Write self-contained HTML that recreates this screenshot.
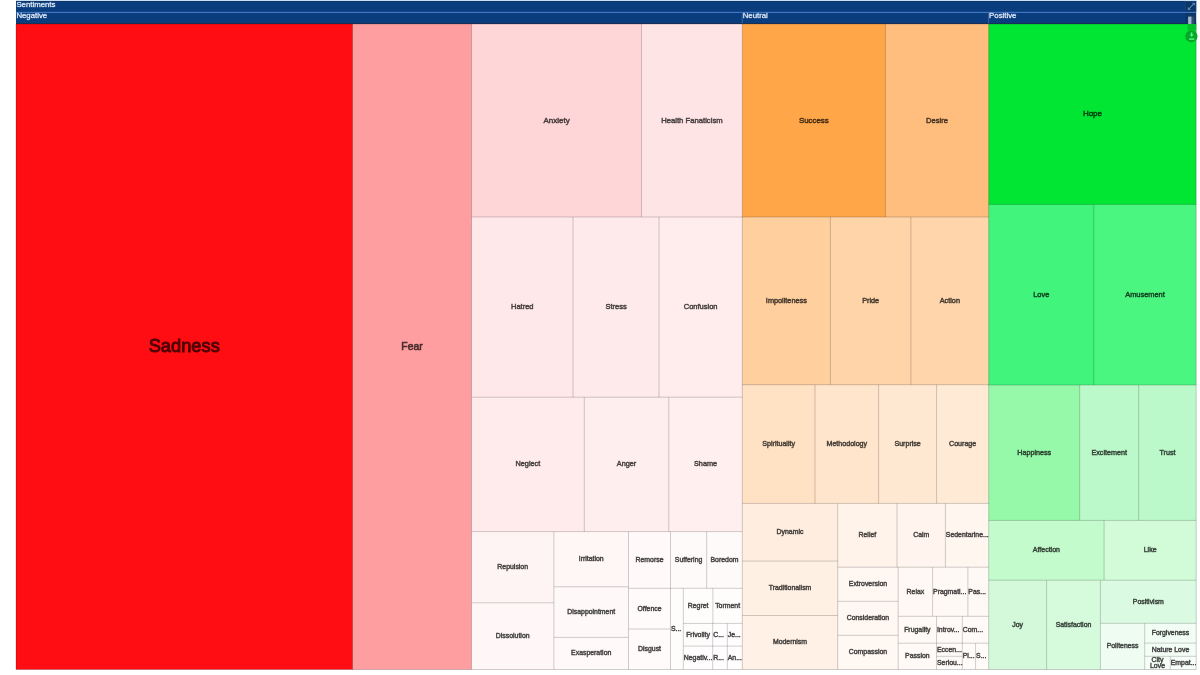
<!DOCTYPE html>
<html><head><meta charset="utf-8"><title>Sentiments</title>
<style>
html,body{margin:0;padding:0;background:#fff;width:1200px;height:675px;overflow:hidden}
svg{display:block;will-change:transform}
text{font-family:"Liberation Sans",sans-serif}
.t{stroke:rgba(0,0,0,0.5);stroke-width:0.4px}
.h{stroke:rgba(230,240,253,0.6);stroke-width:0.4px}
</style></head><body>
<svg width="1200" height="675" viewBox="0 0 1200 675">

<rect x="16.0" y="0" width="1180.2" height="1.2" fill="#c4e0f6"/>
<rect x="16.0" y="1" width="1180.2" height="23" fill="#0a3d7e"/>
<rect x="16.0" y="1" width="1180.2" height="0.8" fill="#17345e"/>
<rect x="16.0" y="11.85" width="1180.2" height="1.1" fill="#4579c6"/>
<rect x="16.0" y="23" width="1180.2" height="1" fill="#1b355f"/>
<rect x="741.8" y="12.5" width="0.9" height="11" fill="#3a68a8"/>
<rect x="988.2" y="12.5" width="0.9" height="11" fill="#3a68a8"/>
<text transform="translate(16.40 6.85) scale(1.1 1)" font-size="7.1" class="h" fill="#eaf2fd">Sentiments</text>
<text transform="translate(16.40 18.40) scale(1.1 1)" font-size="7.1" class="h" fill="#eaf2fd">Negative</text>
<text transform="translate(742.70 18.40) scale(1.1 1)" font-size="7.1" class="h" fill="#eaf2fd">Neutral</text>
<text transform="translate(989.10 18.40) scale(1.1 1)" font-size="7.1" class="h" fill="#eaf2fd">Positive</text>
<rect x="16.00" y="24.00" width="337.20" height="645.50" fill="#ff0d12"/>
<rect x="352.50" y="24.00" width="119.70" height="645.50" fill="#ff9ea0"/>
<rect x="471.50" y="24.00" width="170.70" height="193.70" fill="#ffd6d8"/>
<rect x="641.50" y="24.00" width="101.50" height="193.70" fill="#ffe4e5"/>
<rect x="471.50" y="217.00" width="102.20" height="180.90" fill="#ffe8ea"/>
<rect x="573.00" y="217.00" width="86.70" height="180.90" fill="#ffeaeb"/>
<rect x="659.00" y="217.00" width="84.00" height="180.90" fill="#ffecec"/>
<rect x="471.50" y="397.20" width="113.50" height="135.10" fill="#ffebec"/>
<rect x="584.30" y="397.20" width="85.20" height="135.10" fill="#ffeeee"/>
<rect x="668.80" y="397.20" width="74.20" height="135.10" fill="#ffefef"/>
<rect x="471.50" y="531.60" width="83.10" height="71.90" fill="#fff4f4"/>
<rect x="471.50" y="602.80" width="83.10" height="66.70" fill="#fff7f7"/>
<rect x="553.90" y="531.60" width="75.30" height="55.90" fill="#fff6f6"/>
<rect x="553.90" y="586.80" width="75.30" height="51.30" fill="#fff8f8"/>
<rect x="553.90" y="637.40" width="75.30" height="32.10" fill="#fff9f9"/>
<rect x="628.50" y="531.60" width="42.70" height="57.40" fill="#fff9f9"/>
<rect x="670.50" y="531.60" width="36.90" height="57.40" fill="#fffafa"/>
<rect x="706.70" y="531.60" width="36.30" height="57.40" fill="#fffafa"/>
<rect x="628.50" y="588.30" width="42.70" height="41.40" fill="#fffbfb"/>
<rect x="628.50" y="629.00" width="42.70" height="40.50" fill="#fffbfb"/>
<rect x="670.50" y="588.30" width="13.50" height="81.20" fill="#fffcfc"/>
<rect x="683.30" y="588.30" width="30.30" height="35.80" fill="#fffcfc"/>
<rect x="712.90" y="588.30" width="30.10" height="35.80" fill="#fffcfc"/>
<rect x="683.30" y="623.40" width="30.10" height="23.40" fill="#fffcfc"/>
<rect x="712.70" y="623.40" width="15.30" height="23.40" fill="#fffdfd"/>
<rect x="727.30" y="623.40" width="15.70" height="23.40" fill="#fffdfd"/>
<rect x="683.30" y="646.10" width="30.10" height="23.40" fill="#fffdfd"/>
<rect x="712.70" y="646.10" width="15.30" height="23.40" fill="#fffdfd"/>
<rect x="727.30" y="646.10" width="15.70" height="23.40" fill="#fffdfd"/>
<rect x="742.30" y="24.00" width="143.80" height="193.70" fill="#ffa648"/>
<rect x="885.40" y="24.00" width="104.00" height="193.70" fill="#ffbe7e"/>
<rect x="742.30" y="217.00" width="88.80" height="168.40" fill="#ffcf9e"/>
<rect x="830.40" y="217.00" width="81.20" height="168.40" fill="#ffd4a8"/>
<rect x="910.90" y="217.00" width="78.50" height="168.40" fill="#ffd6ac"/>
<rect x="742.30" y="384.70" width="73.40" height="119.40" fill="#ffe1c4"/>
<rect x="815.00" y="384.70" width="64.30" height="119.40" fill="#ffe5cc"/>
<rect x="878.60" y="384.70" width="58.70" height="119.40" fill="#ffe8d2"/>
<rect x="936.60" y="384.70" width="52.80" height="119.40" fill="#ffead6"/>
<rect x="742.30" y="503.40" width="96.10" height="58.40" fill="#ffeee0"/>
<rect x="742.30" y="561.10" width="96.10" height="55.10" fill="#fff0e4"/>
<rect x="742.30" y="615.50" width="96.10" height="54.00" fill="#fff1e6"/>
<rect x="837.70" y="503.40" width="60.00" height="64.50" fill="#fff3ea"/>
<rect x="897.00" y="503.40" width="49.10" height="64.50" fill="#fff5ee"/>
<rect x="945.40" y="503.40" width="44.00" height="64.50" fill="#fff6f0"/>
<rect x="837.70" y="567.20" width="61.20" height="34.80" fill="#fff7f2"/>
<rect x="837.70" y="601.30" width="61.20" height="34.70" fill="#fff7f2"/>
<rect x="837.70" y="635.30" width="61.20" height="34.20" fill="#fff8f3"/>
<rect x="898.20" y="567.20" width="35.10" height="49.80" fill="#fff8f4"/>
<rect x="932.60" y="567.20" width="36.00" height="49.80" fill="#fff9f5"/>
<rect x="967.90" y="567.20" width="21.50" height="49.80" fill="#fff9f5"/>
<rect x="898.20" y="616.30" width="39.00" height="27.60" fill="#fffaf6"/>
<rect x="936.50" y="616.30" width="26.50" height="27.60" fill="#fffaf7"/>
<rect x="962.30" y="616.30" width="27.10" height="27.60" fill="#fffaf7"/>
<rect x="898.20" y="643.20" width="39.00" height="26.30" fill="#fffaf7"/>
<rect x="936.50" y="643.20" width="26.50" height="13.80" fill="#fffbf8"/>
<rect x="936.50" y="656.30" width="26.50" height="13.20" fill="#fffbf8"/>
<rect x="962.30" y="643.20" width="14.00" height="26.30" fill="#fffbf9"/>
<rect x="975.60" y="643.20" width="13.80" height="26.30" fill="#fffbf9"/>
<rect x="988.70" y="24.00" width="207.50" height="181.10" fill="#00e632"/>
<rect x="988.70" y="204.40" width="105.80" height="181.30" fill="#40f47c"/>
<rect x="1093.80" y="204.40" width="102.40" height="181.30" fill="#4af580"/>
<rect x="988.70" y="385.00" width="91.70" height="136.10" fill="#96f9aa"/>
<rect x="1079.70" y="385.00" width="59.70" height="136.10" fill="#bcf9ca"/>
<rect x="1138.70" y="385.00" width="57.50" height="136.10" fill="#bcf9ca"/>
<rect x="988.70" y="520.40" width="116.10" height="60.50" fill="#c4fbcc"/>
<rect x="1104.10" y="520.40" width="92.10" height="60.50" fill="#d2fbd8"/>
<rect x="988.70" y="580.20" width="58.60" height="89.30" fill="#d3f9da"/>
<rect x="1046.60" y="580.20" width="54.50" height="89.30" fill="#d6fbdc"/>
<rect x="1100.40" y="580.20" width="95.80" height="43.80" fill="#dafbe2"/>
<rect x="1100.40" y="623.30" width="45.00" height="46.20" fill="#eefcf2"/>
<rect x="1144.70" y="623.30" width="51.50" height="20.50" fill="#f2fdf5"/>
<rect x="1144.70" y="643.10" width="51.50" height="13.90" fill="#f5fdf7"/>
<rect x="1144.70" y="656.30" width="26.30" height="13.20" fill="#f7fef8"/>
<rect x="1170.30" y="656.30" width="25.90" height="13.20" fill="#f8fef9"/>
<path d="M16.00 669.50V24.00H352.50M16.00 669.50H352.50M352.50 669.50V24.00H471.50M352.50 669.50H471.50M471.50 217.00V24.00H641.50M641.50 217.00V24.00H742.30M471.50 397.20V217.00H573.00M573.00 397.20V217.00H659.00M659.00 397.20V217.00H742.30M471.50 531.60V397.20H584.30M584.30 531.60V397.20H668.80M668.80 531.60V397.20H742.30M471.50 602.80V531.60H553.90M471.50 669.50V602.80H553.90M471.50 669.50H553.90M553.90 586.80V531.60H628.50M553.90 637.40V586.80H628.50M553.90 669.50V637.40H628.50M553.90 669.50H628.50M628.50 588.30V531.60H670.50M670.50 588.30V531.60H706.70M706.70 588.30V531.60H742.30M628.50 629.00V588.30H670.50M628.50 669.50V629.00H670.50M628.50 669.50H670.50M670.50 669.50V588.30H683.30M670.50 669.50H683.30M683.30 623.40V588.30H712.90M712.90 623.40V588.30H742.30M683.30 646.10V623.40H712.70M712.70 646.10V623.40H727.30M727.30 646.10V623.40H742.30M683.30 669.50V646.10H712.70M683.30 669.50H712.70M712.70 669.50V646.10H727.30M712.70 669.50H727.30M727.30 669.50V646.10H742.30M727.30 669.50H742.30M742.30 217.00V24.00H885.40M885.40 217.00V24.00H988.70M742.30 384.70V217.00H830.40M830.40 384.70V217.00H910.90M910.90 384.70V217.00H988.70M742.30 503.40V384.70H815.00M815.00 503.40V384.70H878.60M878.60 503.40V384.70H936.60M936.60 503.40V384.70H988.70M742.30 561.10V503.40H837.70M742.30 615.50V561.10H837.70M742.30 669.50V615.50H837.70M742.30 669.50H837.70M837.70 567.20V503.40H897.00M897.00 567.20V503.40H945.40M945.40 567.20V503.40H988.70M837.70 601.30V567.20H898.20M837.70 635.30V601.30H898.20M837.70 669.50V635.30H898.20M837.70 669.50H898.20M898.20 616.30V567.20H932.60M932.60 616.30V567.20H967.90M967.90 616.30V567.20H988.70M898.20 643.20V616.30H936.50M936.50 643.20V616.30H962.30M962.30 643.20V616.30H988.70M898.20 669.50V643.20H936.50M898.20 669.50H936.50M936.50 656.30V643.20H962.30M936.50 669.50V656.30H962.30M936.50 669.50H962.30M962.30 669.50V643.20H975.60M962.30 669.50H975.60M975.60 669.50V643.20H988.70M975.60 669.50H988.70M988.70 204.40V24.00H1196.20M1196.20 24.00V204.40M988.70 385.00V204.40H1093.80M1093.80 385.00V204.40H1196.20M1196.20 204.40V385.00M988.70 520.40V385.00H1079.70M1079.70 520.40V385.00H1138.70M1138.70 520.40V385.00H1196.20M1196.20 385.00V520.40M988.70 580.20V520.40H1104.10M1104.10 580.20V520.40H1196.20M1196.20 520.40V580.20M988.70 669.50V580.20H1046.60M988.70 669.50H1046.60M1046.60 669.50V580.20H1100.40M1046.60 669.50H1100.40M1100.40 623.30V580.20H1196.20M1196.20 580.20V623.30M1100.40 669.50V623.30H1144.70M1100.40 669.50H1144.70M1144.70 643.10V623.30H1196.20M1196.20 623.30V643.10M1144.70 656.30V643.10H1196.20M1196.20 643.10V656.30M1144.70 669.50V656.30H1170.30M1144.70 669.50H1170.30M1170.30 669.50V656.30H1196.20M1196.20 656.30V669.50M1170.30 669.50H1196.20" fill="none" stroke="rgba(0,0,0,0.19)" stroke-width="1"/>
<text transform="translate(184.25 352.31) scale(1 1.0)" font-size="18.3" text-anchor="middle" fill="rgb(76,3,5)" stroke="rgb(76,3,5)" stroke-width="0.9">Sadness</text>
<text transform="translate(412.00 350.25) scale(1 1.0)" font-size="10.4" text-anchor="middle" fill="rgb(71,44,44)" stroke="rgb(71,44,44)" stroke-width="0.6">Fear</text>
<text transform="translate(556.50 122.73) scale(1 1.0)" font-size="8.0" text-anchor="middle" fill="rgb(71,59,60)" stroke="rgb(71,59,60)" stroke-width="0.45">Anxiety</text>
<text transform="translate(691.90 122.65) scale(1 1.0)" font-size="7.7" text-anchor="middle" fill="rgb(71,63,64)" stroke="rgb(71,63,64)" stroke-width="0.45">Health Fanaticism</text>
<text transform="translate(522.25 309.20) scale(1 1.0)" font-size="7.5" text-anchor="middle" fill="rgb(71,64,65)" stroke="rgb(71,64,65)" stroke-width="0.45">Hatred</text>
<text transform="translate(616.00 309.20) scale(1 1.0)" font-size="7.5" text-anchor="middle" fill="rgb(71,65,65)" stroke="rgb(71,65,65)" stroke-width="0.45">Stress</text>
<text transform="translate(700.65 309.20) scale(1 1.0)" font-size="7.5" text-anchor="middle" fill="rgb(71,66,66)" stroke="rgb(71,66,66)" stroke-width="0.45">Confusion</text>
<text transform="translate(527.90 466.45) scale(1 1.0)" font-size="7.3" text-anchor="middle" fill="rgb(71,65,66)" stroke="rgb(71,65,66)" stroke-width="0.45">Neglect</text>
<text transform="translate(626.55 466.45) scale(1 1.0)" font-size="7.3" text-anchor="middle" fill="rgb(71,66,66)" stroke="rgb(71,66,66)" stroke-width="0.45">Anger</text>
<text transform="translate(705.55 466.45) scale(1 1.0)" font-size="7.3" text-anchor="middle" fill="rgb(71,66,66)" stroke="rgb(71,66,66)" stroke-width="0.45">Shame</text>
<text transform="translate(512.70 569.14) scale(1 1.0)" font-size="6.9" text-anchor="middle" fill="rgb(71,68,68)" stroke="rgb(71,68,68)" stroke-width="0.45">Repulsion</text>
<text transform="translate(512.70 638.09) scale(1 1.0)" font-size="6.9" text-anchor="middle" fill="rgb(71,69,69)" stroke="rgb(71,69,69)" stroke-width="0.45">Dissolution</text>
<text transform="translate(591.20 561.14) scale(1 1.0)" font-size="6.9" text-anchor="middle" fill="rgb(71,68,68)" stroke="rgb(71,68,68)" stroke-width="0.45">Irritation</text>
<text transform="translate(591.20 614.04) scale(1 1.0)" font-size="6.9" text-anchor="middle" fill="rgb(71,69,69)" stroke="rgb(71,69,69)" stroke-width="0.45">Disappointment</text>
<text transform="translate(591.20 655.39) scale(1 1.0)" font-size="6.9" text-anchor="middle" fill="rgb(71,69,69)" stroke="rgb(71,69,69)" stroke-width="0.45">Exasperation</text>
<text transform="translate(649.50 561.89) scale(1 1.0)" font-size="6.9" text-anchor="middle" fill="rgb(71,69,69)" stroke="rgb(71,69,69)" stroke-width="0.45">Remorse</text>
<text transform="translate(688.60 561.89) scale(1 1.0)" font-size="6.9" text-anchor="middle" fill="rgb(71,70,70)" stroke="rgb(71,70,70)" stroke-width="0.45">Suffering</text>
<text transform="translate(724.50 561.89) scale(1 1.0)" font-size="6.9" text-anchor="middle" fill="rgb(71,70,70)" stroke="rgb(71,70,70)" stroke-width="0.45">Boredom</text>
<text transform="translate(649.50 610.59) scale(1 1.0)" font-size="6.9" text-anchor="middle" fill="rgb(71,70,70)" stroke="rgb(71,70,70)" stroke-width="0.45">Offence</text>
<text transform="translate(649.50 651.19) scale(1 1.0)" font-size="6.9" text-anchor="middle" fill="rgb(71,70,70)" stroke="rgb(71,70,70)" stroke-width="0.45">Disgust</text>
<text transform="translate(670.95 630.84) scale(1 1.0)" font-size="6.9" text-anchor="start" fill="rgb(71,70,70)" stroke="rgb(71,70,70)" stroke-width="0.45">S...</text>
<text transform="translate(698.10 607.79) scale(1 1.0)" font-size="6.9" text-anchor="middle" fill="rgb(71,70,70)" stroke="rgb(71,70,70)" stroke-width="0.45">Regret</text>
<text transform="translate(727.60 607.79) scale(1 1.0)" font-size="6.9" text-anchor="middle" fill="rgb(71,70,70)" stroke="rgb(71,70,70)" stroke-width="0.45">Torment</text>
<text transform="translate(698.00 636.69) scale(1 1.0)" font-size="6.9" text-anchor="middle" fill="rgb(71,70,70)" stroke="rgb(71,70,70)" stroke-width="0.45">Frivolity</text>
<text transform="translate(713.15 636.69) scale(1 1.0)" font-size="6.9" text-anchor="start" fill="rgb(71,70,70)" stroke="rgb(71,70,70)" stroke-width="0.45">C...</text>
<text transform="translate(727.75 636.69) scale(1 1.0)" font-size="6.9" text-anchor="start" fill="rgb(71,70,70)" stroke="rgb(71,70,70)" stroke-width="0.45">Je...</text>
<text transform="translate(683.75 659.74) scale(1 1.0)" font-size="6.9" text-anchor="start" fill="rgb(71,70,70)" stroke="rgb(71,70,70)" stroke-width="0.45">Negativ...</text>
<text transform="translate(713.15 659.74) scale(1 1.0)" font-size="6.9" text-anchor="start" fill="rgb(71,70,70)" stroke="rgb(71,70,70)" stroke-width="0.45">R...</text>
<text transform="translate(727.75 659.74) scale(1 1.0)" font-size="6.9" text-anchor="start" fill="rgb(71,70,70)" stroke="rgb(71,70,70)" stroke-width="0.45">An...</text>
<text transform="translate(813.85 122.70) scale(1 1.0)" font-size="7.9" text-anchor="middle" fill="rgb(71,46,20)" stroke="rgb(71,46,20)" stroke-width="0.45">Success</text>
<text transform="translate(937.05 122.63) scale(1 1.0)" font-size="7.6" text-anchor="middle" fill="rgb(71,53,35)" stroke="rgb(71,53,35)" stroke-width="0.45">Desire</text>
<text transform="translate(786.35 302.90) scale(1 1.0)" font-size="7.3" text-anchor="middle" fill="rgb(71,57,44)" stroke="rgb(71,57,44)" stroke-width="0.45">Impoliteness</text>
<text transform="translate(870.65 302.90) scale(1 1.0)" font-size="7.3" text-anchor="middle" fill="rgb(71,59,47)" stroke="rgb(71,59,47)" stroke-width="0.45">Pride</text>
<text transform="translate(949.80 302.90) scale(1 1.0)" font-size="7.3" text-anchor="middle" fill="rgb(71,59,48)" stroke="rgb(71,59,48)" stroke-width="0.45">Action</text>
<text transform="translate(778.65 446.05) scale(1 1.0)" font-size="7.1" text-anchor="middle" fill="rgb(71,63,54)" stroke="rgb(71,63,54)" stroke-width="0.45">Spirituality</text>
<text transform="translate(846.80 446.05) scale(1 1.0)" font-size="7.1" text-anchor="middle" fill="rgb(71,64,57)" stroke="rgb(71,64,57)" stroke-width="0.45">Methodology</text>
<text transform="translate(907.60 446.05) scale(1 1.0)" font-size="7.1" text-anchor="middle" fill="rgb(71,64,58)" stroke="rgb(71,64,58)" stroke-width="0.45">Surprise</text>
<text transform="translate(962.65 446.05) scale(1 1.0)" font-size="7.1" text-anchor="middle" fill="rgb(71,65,59)" stroke="rgb(71,65,59)" stroke-width="0.45">Courage</text>
<text transform="translate(790.00 534.19) scale(1 1.0)" font-size="6.9" text-anchor="middle" fill="rgb(71,66,62)" stroke="rgb(71,66,62)" stroke-width="0.45">Dynamic</text>
<text transform="translate(790.00 590.24) scale(1 1.0)" font-size="6.9" text-anchor="middle" fill="rgb(71,67,63)" stroke="rgb(71,67,63)" stroke-width="0.45">Traditionalism</text>
<text transform="translate(790.00 644.44) scale(1 1.0)" font-size="6.9" text-anchor="middle" fill="rgb(71,67,64)" stroke="rgb(71,67,64)" stroke-width="0.45">Modernism</text>
<text transform="translate(867.35 537.24) scale(1 1.0)" font-size="6.9" text-anchor="middle" fill="rgb(71,68,65)" stroke="rgb(71,68,65)" stroke-width="0.45">Relief</text>
<text transform="translate(921.20 537.24) scale(1 1.0)" font-size="6.9" text-anchor="middle" fill="rgb(71,68,66)" stroke="rgb(71,68,66)" stroke-width="0.45">Calm</text>
<text transform="translate(945.85 537.24) scale(1 1.0)" font-size="6.9" text-anchor="start" fill="rgb(71,68,67)" stroke="rgb(71,68,67)" stroke-width="0.45">Sedentarine...</text>
<text transform="translate(867.95 586.19) scale(1 1.0)" font-size="6.9" text-anchor="middle" fill="rgb(71,69,67)" stroke="rgb(71,69,67)" stroke-width="0.45">Extroversion</text>
<text transform="translate(867.95 620.24) scale(1 1.0)" font-size="6.9" text-anchor="middle" fill="rgb(71,69,67)" stroke="rgb(71,69,67)" stroke-width="0.45">Consideration</text>
<text transform="translate(867.95 654.34) scale(1 1.0)" font-size="6.9" text-anchor="middle" fill="rgb(71,69,68)" stroke="rgb(71,69,68)" stroke-width="0.45">Compassion</text>
<text transform="translate(915.40 593.69) scale(1 1.0)" font-size="6.9" text-anchor="middle" fill="rgb(71,69,68)" stroke="rgb(71,69,68)" stroke-width="0.45">Relax</text>
<text transform="translate(933.05 593.69) scale(1 1.0)" font-size="6.9" text-anchor="start" fill="rgb(71,69,68)" stroke="rgb(71,69,68)" stroke-width="0.45">Pragmati...</text>
<text transform="translate(968.35 593.69) scale(1 1.0)" font-size="6.9" text-anchor="start" fill="rgb(71,69,68)" stroke="rgb(71,69,68)" stroke-width="0.45">Pas...</text>
<text transform="translate(917.35 631.69) scale(1 1.0)" font-size="6.9" text-anchor="middle" fill="rgb(71,70,68)" stroke="rgb(71,70,68)" stroke-width="0.45">Frugality</text>
<text transform="translate(936.95 631.69) scale(1 1.0)" font-size="6.9" text-anchor="start" fill="rgb(71,70,69)" stroke="rgb(71,70,69)" stroke-width="0.45">Introv...</text>
<text transform="translate(962.75 631.69) scale(1 1.0)" font-size="6.9" text-anchor="start" fill="rgb(71,70,69)" stroke="rgb(71,70,69)" stroke-width="0.45">Com...</text>
<text transform="translate(917.35 658.29) scale(1 1.0)" font-size="6.9" text-anchor="middle" fill="rgb(71,70,69)" stroke="rgb(71,70,69)" stroke-width="0.45">Passion</text>
<text transform="translate(936.95 651.69) scale(1 1.0)" font-size="6.9" text-anchor="start" fill="rgb(71,70,69)" stroke="rgb(71,70,69)" stroke-width="0.45">Eccen...</text>
<text transform="translate(936.95 664.84) scale(1 1.0)" font-size="6.9" text-anchor="start" fill="rgb(71,70,69)" stroke="rgb(71,70,69)" stroke-width="0.45">Seriou...</text>
<text transform="translate(962.75 658.29) scale(1 1.0)" font-size="6.9" text-anchor="start" fill="rgb(71,70,69)" stroke="rgb(71,70,69)" stroke-width="0.45">Pl...</text>
<text transform="translate(976.05 658.29) scale(1 1.0)" font-size="6.9" text-anchor="start" fill="rgb(71,70,69)" stroke="rgb(71,70,69)" stroke-width="0.45">S...</text>
<text transform="translate(1092.45 116.43) scale(1 1.0)" font-size="8.0" text-anchor="middle" fill="rgb(0,64,14)" stroke="rgb(0,64,14)" stroke-width="0.45">Hope</text>
<text transform="translate(1041.25 296.77) scale(1 1.0)" font-size="7.4" text-anchor="middle" fill="rgb(17,68,34)" stroke="rgb(17,68,34)" stroke-width="0.45">Love</text>
<text transform="translate(1145.00 296.77) scale(1 1.0)" font-size="7.4" text-anchor="middle" fill="rgb(20,68,35)" stroke="rgb(20,68,35)" stroke-width="0.45">Amusement</text>
<text transform="translate(1034.20 454.72) scale(1 1.0)" font-size="7.2" text-anchor="middle" fill="rgb(42,69,47)" stroke="rgb(42,69,47)" stroke-width="0.45">Happiness</text>
<text transform="translate(1109.20 454.72) scale(1 1.0)" font-size="7.2" text-anchor="middle" fill="rgb(52,69,56)" stroke="rgb(52,69,56)" stroke-width="0.45">Excitement</text>
<text transform="translate(1167.45 454.72) scale(1 1.0)" font-size="7.2" text-anchor="middle" fill="rgb(52,69,56)" stroke="rgb(52,69,56)" stroke-width="0.45">Trust</text>
<text transform="translate(1046.40 552.27) scale(1 1.0)" font-size="7.0" text-anchor="middle" fill="rgb(54,70,57)" stroke="rgb(54,70,57)" stroke-width="0.45">Affection</text>
<text transform="translate(1150.15 552.27) scale(1 1.0)" font-size="7.0" text-anchor="middle" fill="rgb(58,70,60)" stroke="rgb(58,70,60)" stroke-width="0.45">Like</text>
<text transform="translate(1017.65 626.79) scale(1 1.0)" font-size="6.9" text-anchor="middle" fill="rgb(59,69,61)" stroke="rgb(59,69,61)" stroke-width="0.45">Joy</text>
<text transform="translate(1073.50 626.79) scale(1 1.0)" font-size="6.9" text-anchor="middle" fill="rgb(59,70,61)" stroke="rgb(59,70,61)" stroke-width="0.45">Satisfaction</text>
<text transform="translate(1148.30 603.69) scale(1 1.0)" font-size="6.9" text-anchor="middle" fill="rgb(61,70,63)" stroke="rgb(61,70,63)" stroke-width="0.45">Positivism</text>
<text transform="translate(1122.55 648.34) scale(1 1.0)" font-size="6.9" text-anchor="middle" fill="rgb(66,70,67)" stroke="rgb(66,70,67)" stroke-width="0.45">Politeness</text>
<text transform="translate(1170.45 635.14) scale(1 1.0)" font-size="6.9" text-anchor="middle" fill="rgb(67,70,68)" stroke="rgb(67,70,68)" stroke-width="0.45">Forgiveness</text>
<text transform="translate(1170.45 651.64) scale(1 1.0)" font-size="6.9" text-anchor="middle" fill="rgb(68,70,69)" stroke="rgb(68,70,69)" stroke-width="0.45">Nature Love</text>
<text transform="translate(1157.50 662.00) scale(1 1.0)" font-size="6.9" text-anchor="middle" fill="rgb(69,71,69)" stroke="rgb(69,71,69)" stroke-width="0.45">City</text>
<text transform="translate(1157.50 668.30) scale(1 1.0)" font-size="6.9" text-anchor="middle" fill="rgb(69,71,69)" stroke="rgb(69,71,69)" stroke-width="0.45">Love</text>
<text transform="translate(1170.75 664.84) scale(1 1.0)" font-size="6.9" text-anchor="start" fill="rgb(69,71,69)" stroke="rgb(69,71,69)" stroke-width="0.45">Empat...</text>

<g>
  <rect x="1185.2" y="1.6" width="10.8" height="10" fill="#0b3668" stroke="#24507e" stroke-width="0.5"/>
  <path d="M1188.4 9.4 L1194.2 3.4" stroke="#7ea6cf" stroke-width="1.0" fill="none"/>
  <path d="M1192.2 3.3 L1194.4 3.3 L1194.4 5.5 M1188.3 7.4 L1188.3 9.5 L1190.4 9.5" stroke="#7ea6cf" stroke-width="0.7" fill="none"/>
  <rect x="1185.2" y="13" width="10.8" height="10.6" fill="#0b3668"/>
  <rect x="1188.1" y="16.6" width="3.6" height="7.4" fill="#a4b4cc"/>
  <rect x="1191.7" y="16.6" width="2.6" height="7.4" fill="#2e4e70"/>
  <rect x="1187.6" y="24" width="8.6" height="6.5" fill="#05c02c"/>
  <circle cx="1191.4" cy="36.3" r="6.1" fill="#06a828"/>
  <path d="M1191.6 32.4 L1191.6 35.4" stroke="#5cf78c" stroke-width="1.4" fill="none"/>
  <path d="M1189.6 34.6 L1191.6 36.9 L1193.6 34.6 Z" fill="#5cf78c"/>
  <rect x="1189.1" y="38.4" width="5.2" height="1.4" fill="#5cf78c"/>
</g>

</svg></body></html>
